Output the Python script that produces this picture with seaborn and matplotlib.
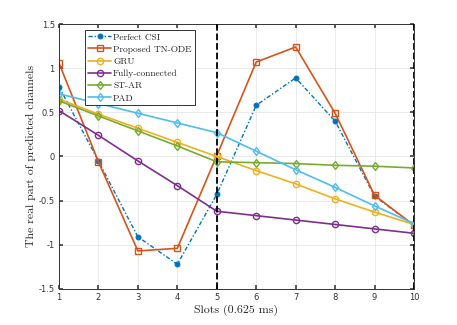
import numpy as np
import pandas as pd
import matplotlib
matplotlib.use("Agg")
import matplotlib.pyplot as plt
import seaborn as sns
from matplotlib.ticker import FixedLocator, FuncFormatter

slots = [1, 2, 3, 4, 5, 6, 7, 8, 9, 10]
perfect_csi = [0.79, -0.05, -0.91, -1.22, -0.43, 0.58, 0.89, 0.40, -0.45, -0.78]
tn_ode = [1.06, -0.06, -1.07, -1.04, 0.01, 1.07, 1.24, 0.49, -0.44, -0.78]
gru = [0.65, 0.48, 0.32, 0.16, 0.00, -0.16, -0.31, -0.48, -0.63, -0.77]
fully_connected = [0.52, 0.24, -0.05, -0.33, -0.62, -0.67, -0.72, -0.77, -0.82, -0.87]
st_ar = [0.63, 0.46, 0.29, 0.12, -0.06, -0.07, -0.08, -0.10, -0.11, -0.13]
pad = [0.71, 0.60, 0.49, 0.38, 0.27, 0.06, -0.15, -0.35, -0.56, -0.76]

names = ["Perfect CSI", "Proposed TN-ODE", "GRU", "Fully-connected", "ST-AR", "PAD"]
series = [perfect_csi, tn_ode, gru, fully_connected, st_ar, pad]
colors = ["#0072BD", "#D95319", "#EDB120", "#7E2F8E", "#77AC30", "#4DBEEE"]
markers = ["o", "s", "o", "o", "d", "d"]

sns.set_theme(style="whitegrid")
plt.rcParams["font.family"] = ["DejaVu Sans"]
plt.rcParams["mathtext.fontset"] = "cm"

fig = plt.figure(figsize=(4.57, 3.25), dpi=100)
ax = fig.add_axes([0.129, 0.111, 0.777, 0.815])

for name, vals, c, m in zip(names, series, colors, markers):
    df = pd.DataFrame({"slot": slots, "val": vals})
    if name == "Perfect CSI":
        sns.lineplot(data=df, x="slot", y="val", ax=ax, color=c, marker=m,
                     markersize=3.5, markerfacecolor=c, markeredgecolor=c,
                     linestyle=(0, (3, 1.5, 1, 1.5)), linewidth=1.0, label=name)
    else:
        sns.lineplot(data=df, x="slot", y="val", ax=ax, color=c, marker=m,
                     markersize=4.5, markerfacecolor="none", markeredgecolor=c,
                     markeredgewidth=1.0, linewidth=1.2, label=name)

ax.axvline(5, color="black", linestyle="--", linewidth=1.3, zorder=5)
ax.axvline(10, color="black", linestyle="--", linewidth=1.3, zorder=5)

ax.set_xlim(1, 10)
ax.set_ylim(-1.5, 1.5)
ax.xaxis.set_major_locator(FixedLocator(slots))
ax.yaxis.set_major_locator(FixedLocator([-1.5, -1, -0.5, 0, 0.5, 1, 1.5]))
ax.yaxis.set_major_formatter(FuncFormatter(lambda v, p: ("%g" % v)))
ax.tick_params(axis="both", labelsize=6, direction="in", length=3, color="#444444",
               pad=3, bottom=True, left=True, top=True, right=True, labelcolor="#333333")
ax.grid(True, color="#e6e6e6", linewidth=0.6)
ax.set_facecolor("white")
for s in ax.spines.values():
    s.set_color("#333333")
    s.set_linewidth(0.7)

ax.set_xlabel("Slots (0.625 ms)", fontname="cmr10", fontsize=8.6, labelpad=2)
ax.set_ylabel("The real part of predicted channels", fontname="cmr10", fontsize=8.5, labelpad=2)

leg = ax.legend(loc="upper left", bbox_to_anchor=(0.073, 0.977),
                prop={"family": "cmr10", "size": 6.8}, frameon=True, fancybox=False,
                edgecolor="#333333", framealpha=1, borderpad=0.3, labelspacing=0.38,
                handlelength=2.5, handletextpad=0.2, borderaxespad=0)
leg.get_frame().set_linewidth(0.7)

fig.savefig("out.png", dpi=100)
